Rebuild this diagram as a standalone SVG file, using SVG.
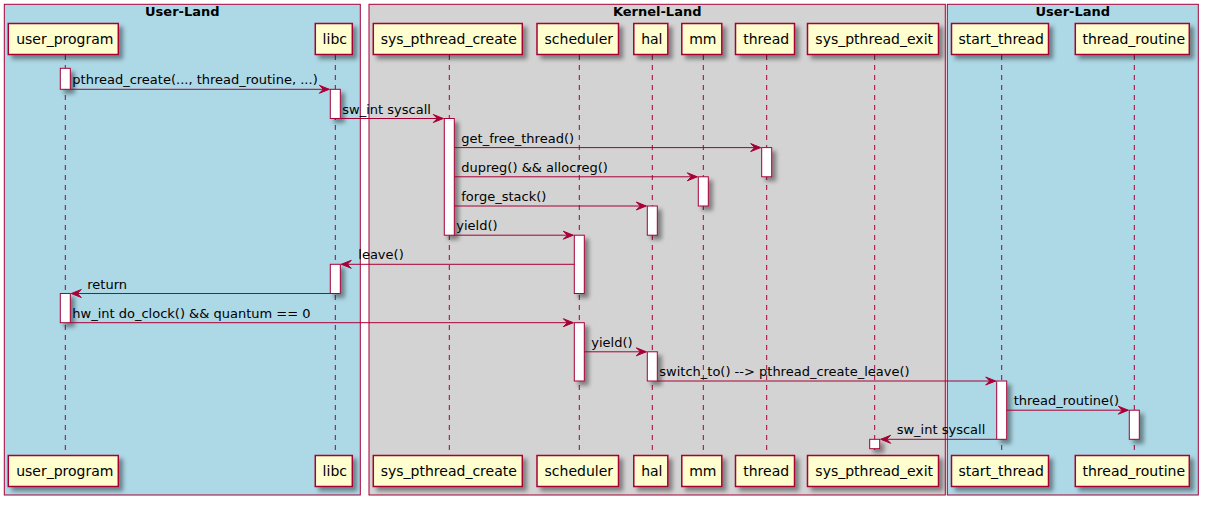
<svg xmlns="http://www.w3.org/2000/svg" width="1208" height="505" viewBox="0 0 1208 505">
<style>
text{font-family:"DejaVu Sans","Liberation Sans",sans-serif;fill:#000}
.title{font-size:13px;font-weight:bold;text-anchor:middle}
.pl{font-size:14px;text-anchor:middle}
.msg{font-size:13px}
.frame{stroke:#A80036;stroke-width:1}
.part{fill:#FEFECE;stroke:#A80036;stroke-width:1.5}
.life{stroke:#A80036;stroke-width:1;stroke-dasharray:5,5;fill:none}
.act{fill:#FFFFFF;stroke:#A80036;stroke-width:1}
.arr{stroke:#A80036;stroke-width:1;fill:none}
.head{fill:#A80036;stroke:#A80036;stroke-width:1}
</style>
<defs>
<filter id="sh" x="-1" y="-1" width="300%" height="300%">
<feGaussianBlur in="SourceAlpha" stdDeviation="2" result="b"/>
<feColorMatrix in="b" type="matrix" values="0 0 0 0 0 0 0 0 0 0 0 0 0 0 0 0 0 0 .4 0" result="b2"/>
<feOffset in="b2" dx="4" dy="4" result="b3"/>
<feBlend in="SourceGraphic" in2="b3" mode="normal"/>
</filter>
</defs>
<g id="frames">
<rect class="frame" x="4.3" y="4.3" width="356" height="490.7" fill="#ADD8E6"/>
<text class="title" x="182.3" y="16">User-Land</text>
<rect class="frame" x="369" y="4.3" width="576.3" height="490.7" fill="#D3D3D3"/>
<text class="title" x="657.2" y="16">Kernel-Land</text>
<rect class="frame" x="947.3" y="4.3" width="251" height="490.7" fill="#ADD8E6"/>
<text class="title" x="1072.8" y="16">User-Land</text>
</g>
<g id="user_program">
<line class="life" x1="65.3" y1="55" x2="65.3" y2="455"/>
<rect class="part" filter="url(#sh)" x="8.3" y="23.5" width="110" height="31"/>
<text class="pl" x="64.8" y="43.5">user_program</text>
<rect class="part" filter="url(#sh)" x="8.3" y="455.5" width="110" height="31"/>
<text class="pl" x="64.8" y="475.5">user_program</text>
<rect class="act" filter="url(#sh)" x="60.3" y="68.3" width="10" height="21"/>
<rect class="act" filter="url(#sh)" x="60.3" y="293.5" width="10" height="29.2"/>
</g>
<g id="libc">
<line class="life" x1="335.3" y1="55" x2="335.3" y2="455"/>
<rect class="part" filter="url(#sh)" x="315.3" y="23.5" width="37" height="31"/>
<text class="pl" x="334.8" y="43.5">libc</text>
<rect class="part" filter="url(#sh)" x="315.3" y="455.5" width="37" height="31"/>
<text class="pl" x="334.8" y="475.5">libc</text>
<rect class="act" filter="url(#sh)" x="330.3" y="89.3" width="10" height="29.2"/>
<rect class="act" filter="url(#sh)" x="330.3" y="264.3" width="10" height="29.2"/>
</g>
<g id="sys_pthread_create">
<line class="life" x1="449.3" y1="55" x2="449.3" y2="455"/>
<rect class="part" filter="url(#sh)" x="373.3" y="23.5" width="149" height="31"/>
<text class="pl" x="448.8" y="43.5">sys_pthread_create</text>
<rect class="part" filter="url(#sh)" x="373.3" y="455.5" width="149" height="31"/>
<text class="pl" x="448.8" y="475.5">sys_pthread_create</text>
<rect class="act" filter="url(#sh)" x="444.3" y="118.5" width="10" height="116.7"/>
</g>
<g id="scheduler">
<line class="life" x1="579.3" y1="55" x2="579.3" y2="455"/>
<rect class="part" filter="url(#sh)" x="537" y="23.5" width="81.5" height="31"/>
<text class="pl" x="578.8" y="43.5">scheduler</text>
<rect class="part" filter="url(#sh)" x="537" y="455.5" width="81.5" height="31"/>
<text class="pl" x="578.8" y="475.5">scheduler</text>
<rect class="act" filter="url(#sh)" x="574.3" y="235.2" width="10" height="58.3"/>
<rect class="act" filter="url(#sh)" x="574.3" y="322.7" width="10" height="58.3"/>
</g>
<g id="hal">
<line class="life" x1="652.3" y1="55" x2="652.3" y2="455"/>
<rect class="part" filter="url(#sh)" x="633.8" y="23.5" width="34" height="31"/>
<text class="pl" x="651.8" y="43.5">hal</text>
<rect class="part" filter="url(#sh)" x="633.8" y="455.5" width="34" height="31"/>
<text class="pl" x="651.8" y="475.5">hal</text>
<rect class="act" filter="url(#sh)" x="647.3" y="206" width="10" height="29.2"/>
<rect class="act" filter="url(#sh)" x="647.3" y="351.8" width="10" height="29.2"/>
</g>
<g id="mm">
<line class="life" x1="703.3" y1="55" x2="703.3" y2="455"/>
<rect class="part" filter="url(#sh)" x="681.8" y="23.5" width="40" height="31"/>
<text class="pl" x="702.8" y="43.5">mm</text>
<rect class="part" filter="url(#sh)" x="681.8" y="455.5" width="40" height="31"/>
<text class="pl" x="702.8" y="475.5">mm</text>
<rect class="act" filter="url(#sh)" x="698.3" y="176.8" width="10" height="29.2"/>
</g>
<g id="thread">
<line class="life" x1="766.7" y1="55" x2="766.7" y2="455"/>
<rect class="part" filter="url(#sh)" x="735.5" y="23.5" width="59" height="31"/>
<text class="pl" x="766.2" y="43.5">thread</text>
<rect class="part" filter="url(#sh)" x="735.5" y="455.5" width="59" height="31"/>
<text class="pl" x="766.2" y="475.5">thread</text>
<rect class="act" filter="url(#sh)" x="761.7" y="147.6" width="10" height="29.2"/>
</g>
<g id="sys_pthread_exit">
<line class="life" x1="874.7" y1="55" x2="874.7" y2="455"/>
<rect class="part" filter="url(#sh)" x="807.5" y="23.5" width="131" height="31"/>
<text class="pl" x="874.2" y="43.5">sys_pthread_exit</text>
<rect class="part" filter="url(#sh)" x="807.5" y="455.5" width="131" height="31"/>
<text class="pl" x="874.2" y="475.5">sys_pthread_exit</text>
<rect class="act" filter="url(#sh)" x="869.7" y="439.3" width="10" height="9.4"/>
</g>
<g id="start_thread">
<line class="life" x1="1001.7" y1="55" x2="1001.7" y2="455"/>
<rect class="part" filter="url(#sh)" x="951.5" y="23.5" width="97" height="31"/>
<text class="pl" x="1001.2" y="43.5">start_thread</text>
<rect class="part" filter="url(#sh)" x="951.5" y="455.5" width="97" height="31"/>
<text class="pl" x="1001.2" y="475.5">start_thread</text>
<rect class="act" filter="url(#sh)" x="996.7" y="381" width="10" height="58.3"/>
</g>
<g id="thread_routine">
<line class="life" x1="1134.3" y1="55" x2="1134.3" y2="455"/>
<rect class="part" filter="url(#sh)" x="1075.3" y="23.5" width="114" height="31"/>
<text class="pl" x="1133.8" y="43.5">thread_routine</text>
<rect class="part" filter="url(#sh)" x="1075.3" y="455.5" width="114" height="31"/>
<text class="pl" x="1133.8" y="475.5">thread_routine</text>
<rect class="act" filter="url(#sh)" x="1129.3" y="410.2" width="10" height="29.1"/>
</g>
<g id="connectors">
<line class="arr" x1="70.3" y1="89.3" x2="329.3" y2="89.3"/>
<polygon class="head" points="319.3,85.3 329.3,89.3 319.3,93.3 323.3,89.3"/>
<text class="msg" x="72.3" y="84.3">pthread_create(..., thread_routine, ...)</text>

<line class="arr" x1="340.3" y1="118.5" x2="443.3" y2="118.5"/>
<polygon class="head" points="433.3,114.5 443.3,118.5 433.3,122.5 437.3,118.5"/>
<text class="msg" x="342.3" y="113.5">sw_int syscall</text>

<line class="arr" x1="454.3" y1="147.6" x2="760.7" y2="147.6"/>
<polygon class="head" points="750.7,143.6 760.7,147.6 750.7,151.6 754.7,147.6"/>
<text class="msg" x="461.3" y="142.6">get_free_thread()</text>

<line class="arr" x1="454.3" y1="176.8" x2="697.3" y2="176.8"/>
<polygon class="head" points="687.3,172.8 697.3,176.8 687.3,180.8 691.3,176.8"/>
<text class="msg" x="461.3" y="171.8">dupreg() &amp;&amp; allocreg()</text>

<line class="arr" x1="454.3" y1="206" x2="646.3" y2="206"/>
<polygon class="head" points="636.3,202 646.3,206 636.3,210 640.3,206"/>
<text class="msg" x="461.3" y="201">forge_stack()</text>

<line class="arr" x1="454.3" y1="235.2" x2="573.3" y2="235.2"/>
<polygon class="head" points="563.3,231.2 573.3,235.2 563.3,239.2 567.3,235.2"/>
<text class="msg" x="456.3" y="230.2">yield()</text>

<line class="arr" x1="574.3" y1="264.3" x2="341.3" y2="264.3"/>
<polygon class="head" points="351.3,260.3 341.3,264.3 351.3,268.3 347.3,264.3"/>
<text class="msg" x="358.3" y="259.3">leave()</text>

<line class="arr" x1="330.3" y1="293.5" x2="71.3" y2="293.5"/>
<polygon class="head" points="81.3,289.5 71.3,293.5 81.3,297.5 77.3,293.5"/>
<text class="msg" x="87.3" y="288.5">return</text>

<line class="arr" x1="70.3" y1="322.7" x2="573.3" y2="322.7"/>
<polygon class="head" points="563.3,318.7 573.3,322.7 563.3,326.7 567.3,322.7"/>
<text class="msg" x="72.3" y="317.7">hw_int do_clock() &amp;&amp; quantum == 0</text>

<line class="arr" x1="584.3" y1="351.8" x2="646.3" y2="351.8"/>
<polygon class="head" points="636.3,347.8 646.3,351.8 636.3,355.8 640.3,351.8"/>
<text class="msg" x="591.3" y="346.8">yield()</text>

<line class="arr" x1="657.3" y1="381" x2="995.7" y2="381"/>
<polygon class="head" points="985.7,377 995.7,381 985.7,385 989.7,381"/>
<text class="msg" x="659.3" y="376">switch_to() --&gt; pthread_create_leave()</text>

<line class="arr" x1="1006.7" y1="410.2" x2="1128.3" y2="410.2"/>
<polygon class="head" points="1118.3,406.2 1128.3,410.2 1118.3,414.2 1122.3,410.2"/>
<text class="msg" x="1013.7" y="405.2">thread_routine()</text>

<line class="arr" x1="996.7" y1="439.3" x2="880.7" y2="439.3"/>
<polygon class="head" points="890.7,435.3 880.7,439.3 890.7,443.3 886.7,439.3"/>
<text class="msg" x="896.7" y="434.3">sw_int syscall</text>
</g>
</svg>
